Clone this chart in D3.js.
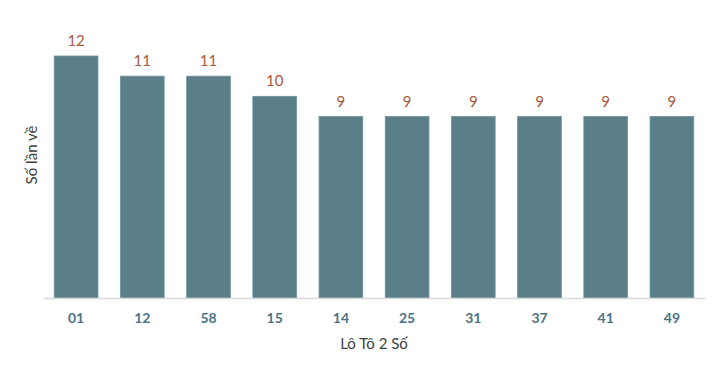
<!DOCTYPE html>
<html><head><meta charset="utf-8">
<script src="https://cdn.jsdelivr.net/npm/d3@7"></script>
<style>body{margin:0;background:#fff;}svg{display:block;font-family:Lato,"Open Sans",sans-serif;}</style>
</head><body><svg id="c" width="717" height="370"></svg>
<script>
const categories = ["01","12","58","15","14","25","31","37","41","49"];
const values = [12,11,11,10,9,9,9,9,9,9];
const xTitle = "Lô Tô 2 Số";
const yTitle = "Số lần về";

const svg = d3.select("#c");
const x = d3.scaleBand().domain(categories).range([43,705]).paddingInner(0.34).paddingOuter(0.17);
const y = d3.scaleLinear().domain([0,12]).range([298,56]);

svg.append("g").selectAll("rect").data(values).join("rect")
  .attr("x",(d,i)=>x(categories[i])).attr("width",x.bandwidth())
  .attr("y",d=>y(d)).attr("height",d=>y(0)-y(d))
  .attr("fill","#5a7f89").attr("stroke","#6d939c").attr("stroke-width",0.8);

svg.append("g").selectAll("text").data(values).join("text")
  .attr("x",(d,i)=>x(categories[i])+x.bandwidth()/2).attr("y",d=>y(d)-10)
  .attr("text-anchor","middle").attr("font-size",15).attr("fill","#a8583a").text(d=>d);

const ax = svg.append("g").attr("transform","translate(0,298)").call(d3.axisBottom(x).tickSize(0).tickPadding(15));
ax.select(".domain").attr("stroke","#d9d9d9").attr("stroke-width",1.5);
ax.selectAll("text").attr("font-size",14).attr("font-weight","bold").attr("fill","#4c7385").attr("font-family","Lato,'Open Sans',sans-serif");

svg.append("text").attr("x",374).attr("y",349).attr("text-anchor","middle").attr("font-size",15).attr("fill","#404040").text(xTitle);
svg.append("text").attr("transform","translate(37,155) rotate(-90)").attr("text-anchor","middle").attr("font-size",15).attr("fill","#404040").text(yTitle);
</script></body></html>
